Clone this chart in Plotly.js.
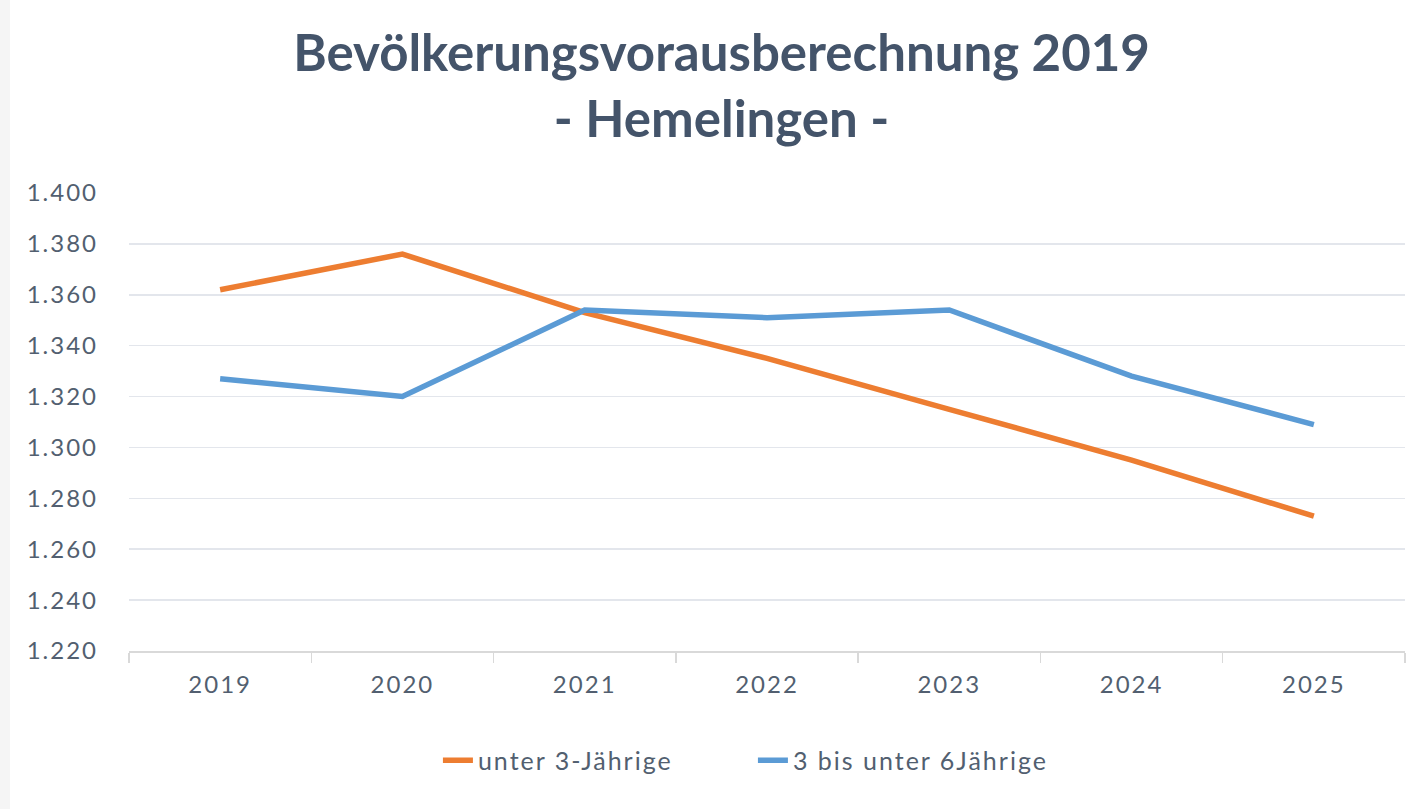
<!DOCTYPE html>
<html>
<head>
<meta charset="utf-8">
<script src="https://cdn.plot.ly/plotly-3.0.1.min.js"></script>
<style>
html,body{margin:0;padding:0;background:#fff;}
#chart{width:1426px;height:809px;}
#chart .xtick text, #chart .ytick text {letter-spacing: 2px;}
#chart .legendtext {letter-spacing: 2px;}
</style>
</head>
<body>
<div id="chart"></div>
<script>
const years = ["2019","2020","2021","2022","2023","2024","2025"];
const unter3 = [1362, 1376, 1353, 1335, 1315, 1295, 1273];
const drei_bis_6 = [1327, 1320, 1354, 1351, 1354, 1328, 1309];
const seriesNames = ["unter 3-Jährige", "3 bis unter 6Jährige"];
const yTicks = [1220, 1240, 1260, 1280, 1300, 1320, 1340, 1360, 1380, 1400];

const font = "Lato, 'Open Sans', sans-serif";
const textColor = "#525f70";

const traces = [
  {x: years, y: unter3, name: seriesNames[0], type: "scatter", mode: "lines",
   line: {color: "#ed7d31", width: 5.5}},
  {x: years, y: drei_bis_6, name: seriesNames[1], type: "scatter", mode: "lines",
   line: {color: "#5b9bd5", width: 5.5}}
];

const layout = {
  width: 1426, height: 809,
  paper_bgcolor: "#ffffff", plot_bgcolor: "#ffffff",
  separators: ",.",
  margin: {l: 129, r: 21, t: 193, b: 158},
  title: {
    text: "<b>Bevölkerungsvorausberechnung 2019</b><br><b>- Hemelingen -</b>",
    font: {family: font, size: 51, color: "#44546a"},
    x: 0.506, xanchor: "center", xref: "container",
    y: 0.912, yanchor: "middle", yref: "container"
  },
  xaxis: {
    type: "category",
    range: [-0.5, 6.5],
    tickson: "boundaries",
    ticks: "outside", ticklen: 10, tickcolor: "#d9d9d9", tickwidth: 1.5,
    showline: true, linecolor: "#d9d9d9", linewidth: 1.5,
    showgrid: false, zeroline: false,
    tickfont: {family: font, size: 24, color: textColor},
    ticklabelstandoff: 12
  },
  yaxis: {
    range: [1220, 1400],
    tickvals: yTicks,
    tickformat: ",.0f",
    showgrid: true, gridcolor: "#e3e6ec", gridwidth: 1.5,
    zeroline: false, showline: false, ticks: "",
    tickfont: {family: font, size: 24, color: textColor},
    ticklabelstandoff: 30
  },
  showlegend: true,
  legend: {
    orientation: "h",
    x: 0.528, xanchor: "center", xref: "container",
    y: 0.06, yanchor: "middle", yref: "container",
    font: {family: font, size: 25, color: textColor},
    entrywidth: 270, tracegroupgap: 0
  },
  shapes: [
    {type: "rect", xref: "paper", yref: "paper", x0: -129/1276, x1: -119/1276, y0: -158/458, y1: 1 + 193/458,
     fillcolor: "#f5f5f5", line: {width: 0}, layer: "below"}
  ]
};

Plotly.newPlot("chart", traces, layout, {displayModeBar: false, staticPlot: true});
</script>
</body>
</html>
